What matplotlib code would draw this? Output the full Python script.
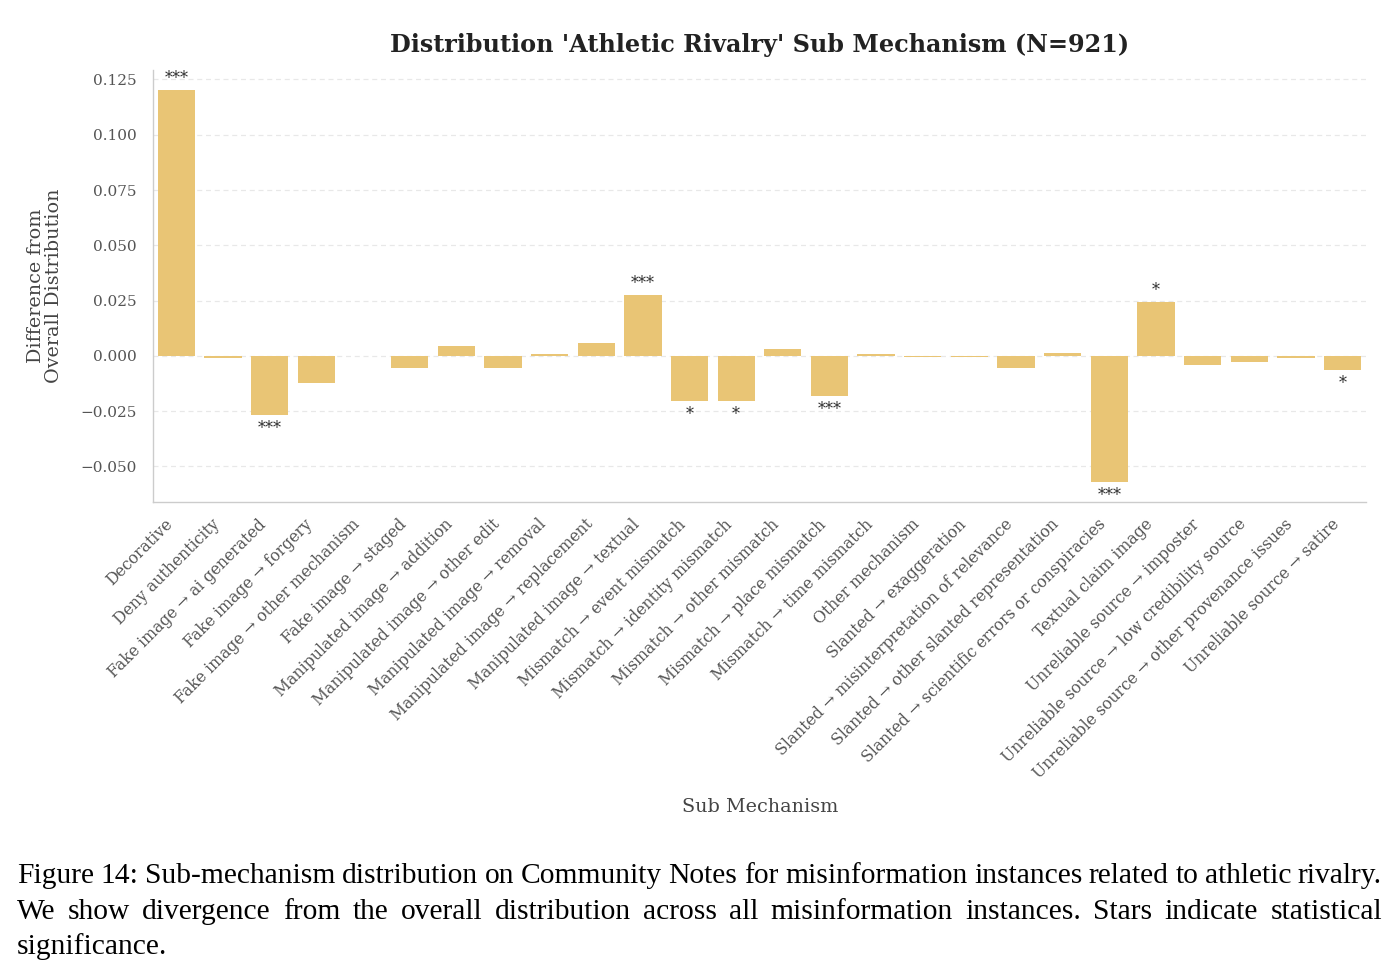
import matplotlib
matplotlib.use("Agg")
import matplotlib.pyplot as plt
import numpy as np

categories = [
    "Decorative", "Deny authenticity", "Fake image → ai generated", "Fake image → forgery",
    "Fake image → other mechanism", "Fake image → staged", "Manipulated image → addition",
    "Manipulated image → other edit", "Manipulated image → removal", "Manipulated image → replacement",
    "Manipulated image → textual", "Mismatch → event mismatch", "Mismatch → identity mismatch",
    "Mismatch → other mismatch", "Mismatch → place mismatch", "Mismatch → time mismatch",
    "Other mechanism", "Slanted → exaggeration", "Slanted → misinterpretation of relevance",
    "Slanted → other slanted representation", "Slanted → scientific errors or conspiracies",
    "Textual claim image", "Unreliable source → imposter", "Unreliable source → low credibility source",
    "Unreliable source → other provenance issues", "Unreliable source → satire",
]
values = [
    0.1204, -0.0008, -0.0267, -0.0124, 0.0, -0.0054, 0.0045, -0.0057, 0.0009, 0.0057,
    0.0276, -0.0203, -0.0203, 0.0030, -0.0182, 0.0010, -0.0007, -0.0003, -0.0053, 0.0013,
    -0.0572, 0.0243, -0.0042, -0.0029, -0.0008, -0.0064,
]
stars = ["***", "", "***", "", "", "", "", "", "", "",
         "***", "*", "*", "", "***", "", "", "", "", "",
         "***", "*", "", "", "", "*"]
yticks = [-0.05, -0.025, 0.0, 0.025, 0.05, 0.075, 0.1, 0.125]

title = "Distribution 'Athletic Rivalry' Sub Mechanism (N=921)"
caption_lines = [
    "Figure 14: Sub-mechanism distribution on Community Notes for misinformation instances related to athletic rivalry.",
    "We show divergence from the overall distribution across all misinformation instances. Stars indicate statistical",
    "significance.",
]

W, H = 1398, 977
fig = plt.figure(figsize=(W / 100, H / 100), dpi=100)
ax = fig.add_axes([153 / W, 1 - 502 / H, (1366 - 153) / W, (502 - 70) / H])

serif = "DejaVu Serif"
x = np.arange(len(categories))
ax.bar(x, values, width=0.8, color="#E9C575", zorder=2)
ax.set_xlim(-0.5, len(categories) - 0.5)
ax.margins(y=0.05)

for xi, v, s in zip(x, values, stars):
    if not s:
        continue
    if v >= 0:
        ax.text(xi, v + 0.0012, s, ha="center", va="bottom", fontsize=11.5,
                family=serif, color="#333333")
    else:
        ax.text(xi, v - 0.0022, s, ha="center", va="top", fontsize=11.5,
                family=serif, color="#333333")

ax.set_yticks(yticks)
ax.set_yticklabels([f"{t:.3f}".replace("-", "−") for t in yticks],
                   family=serif, fontsize=11, color="#555555")
ax.set_xticks(x)
ax.set_xticklabels(categories, rotation=45, ha="right", family=serif,
                   fontsize=11.3, color="#555555")
ax.tick_params(axis="y", length=0, pad=12)
ax.tick_params(axis="x", length=0, pad=10)

ax.grid(axis="y", linestyle=(0, (4, 3)), color="#e8e8e8", linewidth=0.9, zorder=0)
ax.set_axisbelow(True)
for sp in ["top", "right"]:
    ax.spines[sp].set_visible(False)
for sp in ["left", "bottom"]:
    ax.spines[sp].set_color("#cccccc")
    ax.spines[sp].set_linewidth(1.0)

ax.set_title(title, family=serif, fontweight="bold", fontsize=17.2, color="#222222", pad=13)
ax.set_ylabel("Difference from\nOverall Distribution", family=serif, fontsize=13.8,
              color="#444444", labelpad=12, linespacing=1.0)
fig.text(760 / W, 1 - 807 / H, "Sub Mechanism", family=serif, fontsize=13.8,
         color="#444444", ha="center", va="center")

# caption (justified)
renderer = fig.canvas.get_renderer()
x0, x1 = 17, 1382
ys = [883, 919, 954]


def word_widths(words, size):
    out = []
    for w in words:
        t = fig.text(0, 0, w, family="Liberation Serif", fontsize=size)
        out.append(t.get_window_extent(renderer).width)
        t.remove()
    return out


size = 23.0
while size > 12:
    ok = True
    sp = fig.text(0, 0, "a a", family="Liberation Serif", fontsize=size)
    a = fig.text(0, 0, "aa", family="Liberation Serif", fontsize=size)
    space_w = sp.get_window_extent(renderer).width - a.get_window_extent(renderer).width
    sp.remove(); a.remove()
    for line in caption_lines[:-1]:
        words = line.split(" ")
        gap = ((x1 - x0) - sum(word_widths(words, size))) / (len(words) - 1)
        if gap < space_w * 0.85:
            ok = False
            break
    if ok:
        break
    size -= 0.25

cap_font = dict(family="Liberation Serif", fontsize=size, color="black")
for i, (line, yb) in enumerate(zip(caption_lines, ys)):
    yf = 1 - yb / H
    if i == len(caption_lines) - 1:
        fig.text(x0 / W, yf, line, ha="left", va="baseline", **cap_font)
        continue
    words = line.split(" ")
    widths = word_widths(words, size)
    gap = ((x1 - x0) - sum(widths)) / (len(words) - 1)
    cx = x0
    for w, wd in zip(words, widths):
        fig.text(cx / W, yf, w, ha="left", va="baseline", **cap_font)
        cx += wd + gap

fig.savefig("out.png", dpi=100)
